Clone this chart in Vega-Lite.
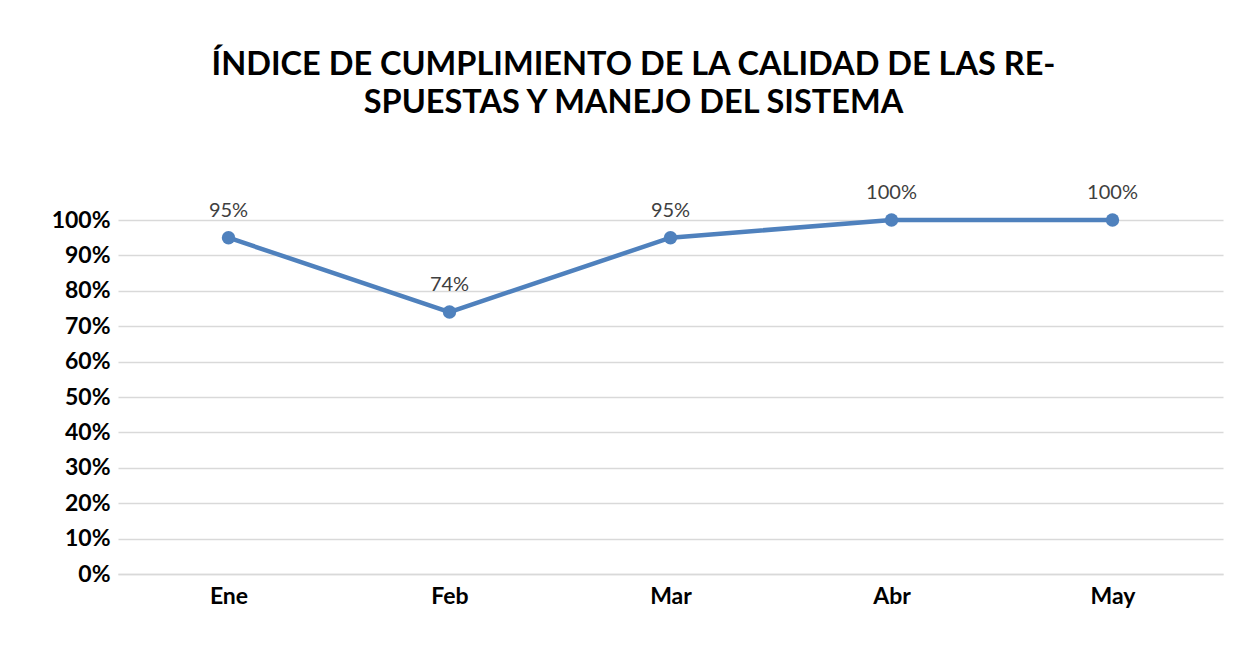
{
  "$schema": "https://vega.github.io/schema/vega-lite/v6.json",
  "width": 1105,
  "height": 354,
  "autosize": {"type": "none"},
  "padding": {"left": 118, "top": 220, "right": 25, "bottom": 88},
  "background": "white",
  "title": {
    "text": ["ÍNDICE DE CUMPLIMIENTO DE LA CALIDAD DE LAS RE-", "SPUESTAS Y MANEJO DEL SISTEMA"],
    "font": "Lato",
    "fontSize": 32.5,
    "fontWeight": "bold",
    "color": "#000000",
    "anchor": "middle",
    "frame": "group",
    "dx": -37,
    "offset": 64,
    "lineHeight": 38
  },
  "data": {
    "values": [
      {"mes": "Ene", "valor": 0.95},
      {"mes": "Feb", "valor": 0.74},
      {"mes": "Mar", "valor": 0.95},
      {"mes": "Abr", "valor": 1.0},
      {"mes": "May", "valor": 1.0}
    ]
  },
  "config": {
    "view": {"stroke": null},
    "font": "Lato"
  },
  "encoding": {
    "x": {
      "field": "mes",
      "type": "ordinal",
      "sort": null,
      "scale": {"type": "point", "padding": 0.5},
      "axis": {
        "title": null,
        "labelAngle": 0,
        "labelFont": "Lato",
        "labelFontSize": 23,
        "labelFontWeight": "bold",
        "labelColor": "#000000",
        "labelPadding": 11,
        "ticks": false,
        "domainColor": "#d9d9d9",
        "domainWidth": 1.5,
        "grid": false
      }
    },
    "y": {
      "field": "valor",
      "type": "quantitative",
      "scale": {"domain": [0, 1]},
      "axis": {
        "title": null,
        "format": ".0%",
        "values": [0, 0.1, 0.2, 0.3, 0.4, 0.5, 0.6, 0.7, 0.8, 0.9, 1.0],
        "labelFont": "Lato",
        "labelFontSize": 23,
        "labelFontWeight": "bold",
        "labelColor": "#000000",
        "labelPadding": 8,
        "ticks": false,
        "domain": false,
        "grid": true,
        "gridColor": "#d9d9d9",
        "gridWidth": 1.5
      }
    }
  },
  "layer": [
    {
      "mark": {"type": "line", "color": "#4f81bd", "strokeWidth": 4.5}
    },
    {
      "mark": {"type": "point", "filled": true, "color": "#4f81bd", "size": 180, "opacity": 1}
    },
    {
      "mark": {"type": "text", "font": "Lato", "fontSize": 20, "color": "#404040", "baseline": "bottom", "dy": -17},
      "encoding": {
        "text": {"field": "valor", "type": "quantitative", "format": ".0%"}
      }
    }
  ]
}
